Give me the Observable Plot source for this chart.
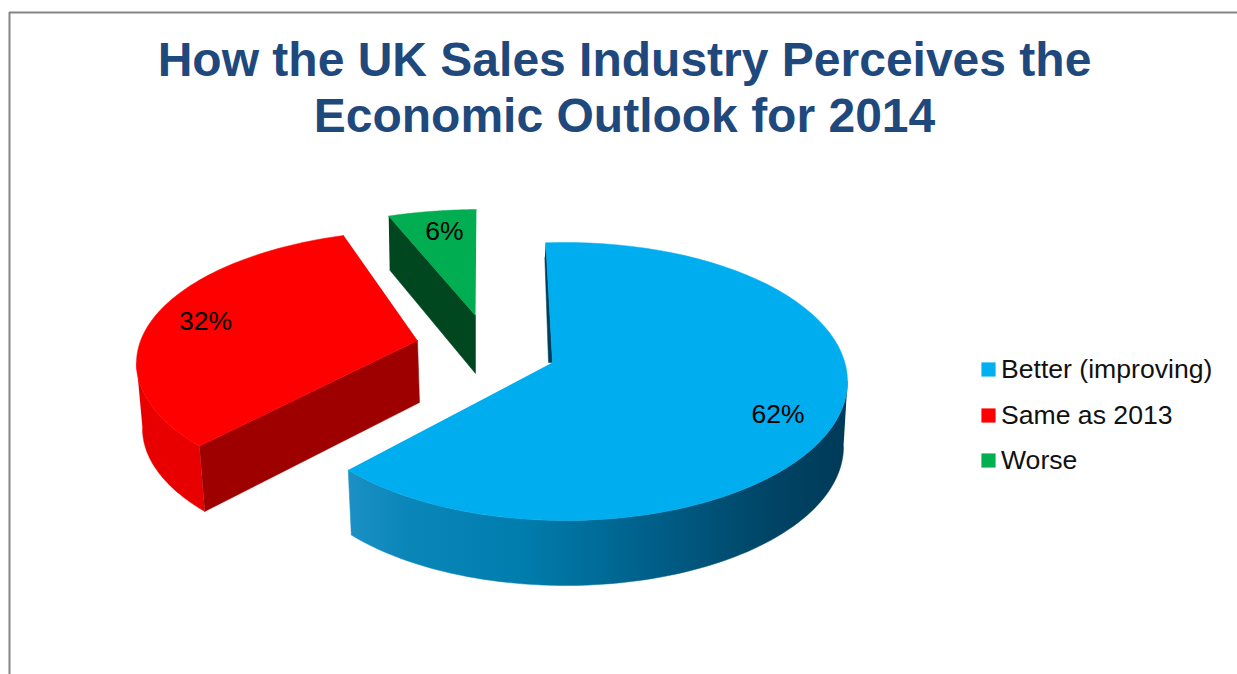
<!DOCTYPE html>
<html>
<head>
<meta charset="utf-8">
<script src="https://cdn.jsdelivr.net/npm/d3@7"></script>
<script src="https://cdn.jsdelivr.net/npm/@observablehq/plot@0.6"></script>
<style>html,body{margin:0;padding:0;background:#fff}svg{display:block}</style>
</head>
<body>
<script>
const categories = ["Better (improving)", "Same as 2013", "Worse"];
const shares = [62, 32, 6];
const shareLabels = ["62%", "32%", "6%"];
const sliceColors = ["#00AEEF", "#FF0000", "#00AD50"];
const legendColors = ["#00B0F0", "#FF0000", "#00B050"];
const titleLines = ["How the UK Sales Industry Perceives the", "Economic Outlook for 2014"];

// Projection of each exploded slice onto the page (pseudo-3D view of the pie).
const views = [
  {top: {cx: 565, cy: 381, rx: 282, ry: 139}, bottom: {cx: 565, cy: 446, rx: 278, ry: 139},
   apex: [552, 362], lowApex: [552, 427], skew: [-4, 7.2]},
  {top: {cx: 424, cy: 362.6, rx: 288, ry: 133}, bottom: {cx: 427, cy: 428, rx: 285, ry: 133},
   apex: [417, 340], lowApex: [419, 402], skew: [8.2, 5.3]},
  {top: {cx: 481, cy: 334, rx: 291, ry: 125}, bottom: {cx: 482, cy: 388, rx: 291, ry: 125},
   apex: [475, 315], lowApex: [475, 373], skew: [3, -1]}
];

const toRad = Math.PI / 180;
const onRim = (e, deg) => ({x: e.cx + e.rx * Math.sin(deg * toRad), y: e.cy - e.ry * Math.cos(deg * toRad)});
const rim = (e, a, b) => d3.range(0, 81).map(i => onRim(e, a + (b - a) * i / 80));
const pt = ([x, y]) => ({x, y});

let running = 0;
const slices = shares.map((v, i) => {
  const a0 = running * 3.6; running += v; const a1 = running * 3.6;
  const s = a0 + views[i].skew[0], e = a1 + views[i].skew[1];
  return {view: views[i], s, e, color: sliceColors[i]};
});
const [blue, red, green] = slices;

const topFace = sl => [pt(sl.view.apex), ...rim(sl.view.top, sl.s, sl.e)];
const wall = (sl, a, b) => [...rim(sl.view.top, a, b), ...rim(sl.view.bottom, b, a)];
const cutFace = (sl, deg) => [onRim(sl.view.top, deg), pt(sl.view.apex), pt(sl.view.lowApex), onRim(sl.view.bottom, deg)];

const poly = (pts, fill) => Plot.line(pts, {x: "x", y: "y", fill, stroke: fill, strokeWidth: 0.5, curve: "linear"});

const gradient = () => {
  const defs = d3.create("svg:defs");
  const g = defs.append("linearGradient").attr("id", "blueWall").attr("x1", 0).attr("x2", 1).attr("y1", 0).attr("y2", 0);
  [[0, "#1B90C4"], [0.12, "#0A86B9"], [0.35, "#007DAD"], [0.6, "#00608A"], [0.85, "#004465"], [1, "#003A58"]]
    .forEach(([o, c]) => g.append("stop").attr("offset", o).attr("stop-color", c));
  return defs.node();
};

const blueRimStart = onRim(blue.view.top, blue.s);
const blueSliver = [blueRimStart, pt(blue.view.apex), pt([blue.view.apex[0] - 4, blue.view.apex[1]]), {x: blueRimStart.x - 1, y: blueRimStart.y + 15}];

const legendY = [369, 415, 460];
const labelPos = [[777.5, 414], [205, 321], [444, 231]];
const font = "'Liberation Sans', Arial, sans-serif";

const chart = Plot.plot({
  width: 1237, height: 674,
  marginTop: 0, marginRight: 0, marginBottom: 0, marginLeft: 0,
  x: {domain: [0, 1237], range: [0, 1237], axis: null},
  y: {domain: [0, 674], range: [0, 674], axis: null},
  style: {background: "#fff", fontFamily: font},
  marks: [
    gradient,
    Plot.ruleY([12], {x1: 9, x2: 1237, stroke: "#858585", strokeWidth: 2}),
    Plot.ruleX([9], {y1: 12, y2: 674, stroke: "#858585", strokeWidth: 2}),
    // green slice
    poly(cutFace(green, green.s), "#00471F"),
    poly(topFace(green), green.color),
    // red slice
    poly(wall(red, 270, red.s), "#E80000"),
    poly(cutFace(red, red.s), "#9E0000"),
    poly(topFace(red), red.color),
    // blue slice
    poly(blueSliver, "#003F5E"),
    poly(wall(blue, 90, blue.e), "url(#blueWall)"),
    poly(topFace(blue), blue.color),
    // slice labels
    Plot.text(shareLabels, {x: (d, i) => labelPos[i][0], y: (d, i) => labelPos[i][1], text: d => d,
      fontSize: 26.5, fill: "#000", lineAnchor: "middle"}),
    // title
    Plot.text(titleLines, {x: () => 624, y: (d, i) => 60 + i * 56, text: d => d,
      fontSize: 48, fontWeight: "bold", fill: "#1F497D", lineAnchor: "middle"}),
    // legend
    Plot.dot(categories, {x: () => 988, y: (d, i) => legendY[i], symbol: "square", r: 8,
      fill: (d, i) => legendColors[i], stroke: "none"}),
    Plot.text(categories, {x: () => 1000.5, y: (d, i) => legendY[i], text: d => d, textAnchor: "start",
      fontSize: 26.6, fill: "#111", lineAnchor: "middle"})
  ],
  color: {type: "identity"},
  symbol: {type: "identity"}
});
document.body.appendChild(chart);
</script>
</body>
</html>
